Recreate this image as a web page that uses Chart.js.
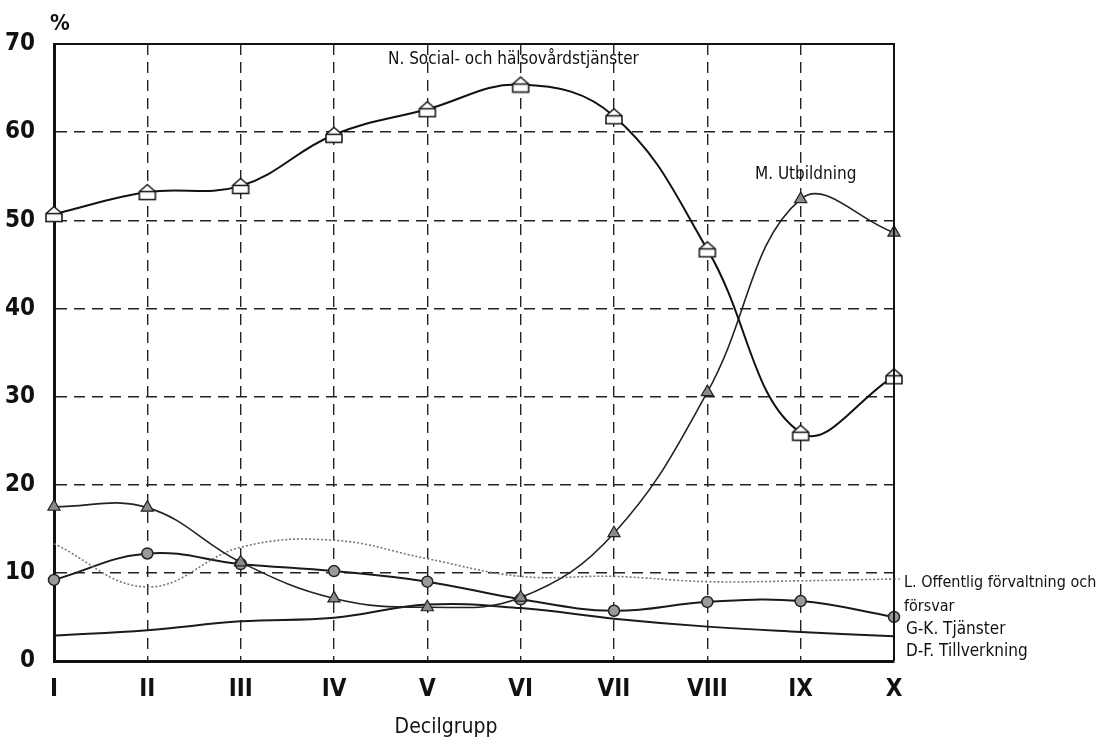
<!DOCTYPE html>
<html>
<head>
<meta charset="utf-8">
<script src="https://cdn.jsdelivr.net/npm/chart.js@4.4.0/dist/chart.umd.min.js"></script>
<style>
    body { margin: 0; background: #fff; }
    canvas { display: block; }
</style>
</head>
<body>
<canvas id="chart" width="1099" height="742"></canvas>
<script>
// Decilgrupper
const deciles = ["I", "II", "III", "IV", "V", "VI", "VII", "VIII", "IX", "X"];

// Andel (%) per näringsgren
const socialHalsovard = [50.7, 53.2, 53.9, 59.7, 62.6, 65.4, 61.8, 46.7, 25.9, 32.3];
const utbildning = [17.5, 17.4, 11.2, 7.1, 6.1, 7.2, 14.5, 30.5, 52.4, 48.6];
const offentligForvaltning = [13.3, 8.4, 12.9, 13.7, 11.6, 9.6, 9.6, 9.0, 9.1, 9.3];
const tjanster = [9.2, 12.2, 11.0, 10.2, 9.0, 7.0, 5.7, 6.7, 6.8, 5.0];
const tillverkning = [2.9, 3.5, 4.5, 4.9, 6.4, 6.0, 4.8, 3.9, 3.3, 2.8];

const yTicks = [0, 10, 20, 30, 40, 50, 60, 70];

const FONT = '"Liberation Sans Narrow", "DejaVu Sans Condensed", "Roboto Condensed", sans-serif';

// "hus"-markör för N-serien
function houseMarker() {
    const c = document.createElement("canvas");
    c.width = 20; c.height = 18;
    const g = c.getContext("2d");
    g.fillStyle = "#fff";
    g.strokeStyle = "#111";
    g.lineWidth = 1.5;
    g.beginPath();
    g.moveTo(10, 1.5);
    g.lineTo(18, 8.5);
    g.lineTo(18, 16.5);
    g.lineTo(2, 16.5);
    g.lineTo(2, 8.5);
    g.closePath();
    g.fill();
    g.stroke();
    g.beginPath();
    g.moveTo(2, 8.5);
    g.lineTo(18, 8.5);
    g.stroke();
    return c;
}

// Ram, etiketter och axeltitel
const textPlugin = {
    id: "texts",
    afterDraw(chart) {
        const { ctx, chartArea: a } = chart;
        ctx.save();
        ctx.strokeStyle = "#111";
        ctx.lineWidth = 2;
        ctx.beginPath();
        ctx.moveTo(a.left, a.top);
        ctx.lineTo(a.right, a.top);
        ctx.lineTo(a.right, a.bottom);
        ctx.stroke();

        // kort prickad ledlinje till L-etiketten
        const yL = chart.scales.y.getPixelForValue(offentligForvaltning[offentligForvaltning.length - 1]);
        ctx.setLineDash([2, 2]);
        ctx.strokeStyle = "#666";
        ctx.lineWidth = 1;
        ctx.beginPath();
        ctx.moveTo(a.right, yL);
        ctx.lineTo(a.right + 8, yL);
        ctx.stroke();
        ctx.setLineDash([]);

        ctx.fillStyle = "#111";
        ctx.textBaseline = "middle";
        ctx.textAlign = "left";
        ctx.font = "bold 22px " + FONT;
        ctx.fillText("%", 50, 24);

        ctx.font = "17px " + FONT;
        ctx.fillText("N. Social- och hälsovårdstjänster", 388, 60);
        ctx.fillText("M. Utbildning", 755, 175);
        ctx.fillText("G-K. Tjänster", 906, 630);
        ctx.fillText("D-F. Tillverkning", 906, 652);
        ctx.font = "16px " + FONT;
        ctx.fillText("L. Offentlig förvaltning och", 904, 583);
        ctx.fillText("försvar", 904, 607);

        ctx.font = "21px " + FONT;
        ctx.textAlign = "center";
        ctx.fillText("Decilgrupp", 446, 728);
        ctx.restore();
    }
};

new Chart(document.getElementById("chart"), {
    type: "line",
    data: {
        labels: deciles,
        datasets: [
            {
                label: "N. Social- och hälsovårdstjänster",
                data: socialHalsovard,
                borderColor: "#111",
                borderWidth: 2,
                pointStyle: houseMarker(),
                pointRadius: 9,
                tension: 0.4
            },
            {
                label: "M. Utbildning",
                data: utbildning,
                borderColor: "#222",
                borderWidth: 1.6,
                pointStyle: "triangle",
                pointRadius: 7,
                pointBackgroundColor: "#8a8a8a",
                pointBorderColor: "#222",
                pointBorderWidth: 1.2,
                tension: 0.4
            },
            {
                label: "L. Offentlig förvaltning och försvar",
                data: offentligForvaltning,
                borderColor: "#777",
                borderWidth: 1.6,
                borderDash: [2, 2],
                pointRadius: 0,
                tension: 0.4
            },
            {
                label: "G-K. Tjänster",
                data: tjanster,
                borderColor: "#1a1a1a",
                borderWidth: 2,
                pointStyle: "circle",
                pointRadius: 5.5,
                pointBackgroundColor: "#9a9a9a",
                pointBorderColor: "#222",
                pointBorderWidth: 1.5,
                tension: 0.4
            },
            {
                label: "D-F. Tillverkning",
                data: tillverkning,
                borderColor: "#1a1a1a",
                borderWidth: 2,
                pointRadius: 0,
                tension: 0.4
            }
        ]
    },
    options: {
        responsive: false,
        animation: false,
        events: [],
        layout: { padding: { left: 0, top: 44, right: 205, bottom: 0 } },
        plugins: {
            legend: { display: false },
            tooltip: { enabled: false }
        },
        scales: {
            x: {
                offset: false,
                afterFit: scale => { scale.height = 81; },
                grid: {
                    drawTicks: false,
                    color: ctx => (ctx.index === 0 || ctx.index === deciles.length - 1) ? "transparent" : "#222",
                    lineWidth: 1.4
                },
                border: { display: true, color: "#111", width: 3, dash: [11, 7] },
                ticks: {
                    autoSkip: false,
                    maxRotation: 0,
                    padding: 14,
                    color: "#111",
                    font: { family: FONT, size: 24, weight: "bold" }
                }
            },
            y: {
                min: 0,
                max: 70,
                afterFit: scale => { scale.width = 54; },
                afterBuildTicks: scale => { scale.ticks = yTicks.map(v => ({ value: v })); },
                grid: {
                    drawTicks: false,
                    color: ctx => (ctx.tick && (ctx.tick.value === 0 || ctx.tick.value === 70)) ? "transparent" : "#222",
                    lineWidth: 1.4
                },
                border: { display: true, color: "#111", width: 3, dash: [11, 7] },
                ticks: {
                    padding: 19,
                    color: "#111",
                    font: { family: FONT, size: 24, weight: "bold" }
                }
            }
        }
    },
    plugins: [textPlugin]
});
</script>
</body>
</html>
